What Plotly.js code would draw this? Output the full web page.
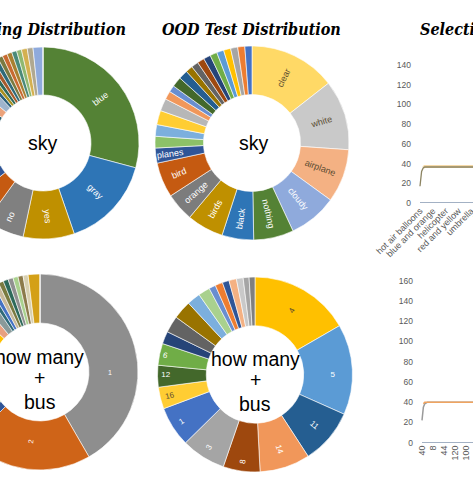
<!DOCTYPE html>
<html><head><meta charset="utf-8">
<script src="https://cdn.plot.ly/plotly-3.0.1.min.js"></script>
<style>
html,body{margin:0;padding:0;background:#fff;overflow:hidden;width:473px;height:477px;}
#chart{position:absolute;left:-70px;top:0;width:690px;height:477px;}
</style></head><body><div id="chart"></div>
<script>
// ---------- DATA ----------
// Training distribution, question "sky" (answers clockwise from 12 o'clock)
const trainSkyLabels = ["blue","gray","yes","no","orange","cloudy","white","clear","black","dark","red","green","night","purple","pink","sunny","overcast","kite","sun","birds","airplane","planes","bird","clouds","nothing","hazy","stormy","grey","light blue"];
const trainSkyValues = [105,56,31,24,16,10,9,9,9,9,9,9,6,8,7,3,3,3,3,3,3,3,3,3,3,3.5,3.5,6,0.0001];
const trainSkyColors = ["#548235","#2E75B6","#BF9000","#808080","#C55A11","#2F5597","#A9D18E","#9DC3E6","#FFD966","#C9C9C9","#F4B183","#8FAADC","#2F6070","#EBA27A","#9EB4CC","#2A607A","#A89020","#2E6A5A","#A85A2A","#2F6A78","#7A7A40","#C86A30","#A88030","#4A8A78","#90B870","#D4B050","#B0A890","#8FAADC","#8FAADC"];
const trainSkyShown = ["gray","yes","no"];
const trainSkyRadialLabel = "blue";   // drawn along its radius (slice crosses 3 o'clock)

// OOD test distribution, question "sky"
const testSkyLabels = ["clear","white","airplane","cloudy","nothing","black","birds","orange","bird","planes","kite","sun","blue","clouds","plane","red","yes","no","overcast","gray","sunny","jet","kites","night","dark","none","day","flying"];
const testSkyValues = [52,42,32,29,24,19,22,17,21,9,7,7,8.5,7.5,5,4,6,5.5,4.25,4.25,4.25,4.25,4.25,4.25,4.25,4.25,4.25,4.25];
const testSkyColors = ["#FFD966","#C9C9C9","#F4B183","#8FAADC","#548235","#2E75B6","#BF9000","#7C7C7C","#C55A11","#2F5597","#8CC168","#7CAFDD","#FFCD33","#B7B7B7","#F1975A","#698ED0","#43682B","#255E91","#997300","#636363","#9E480E","#264478","#70AD47","#5B9BD5","#FFC000","#A5A5A5","#ED7D31","#4472C4"];
const testSkyShown = ["clear","white","airplane","cloudy","nothing","black","birds","orange","bird","planes"];
const testSkyDarkText = ["clear","white","airplane"];

// Training distribution, question "how many" + "bus"
const trainBusLabels = ["1","2","3","4","5","6","7","8","9","10","11","12","0","20","13","15","14","16","17","18","19","21","25","30","24","50"];
const trainBusValues = [150,75,8,8,8,8,8,8,8,8,8,8,8,7,6,3,3,3,3,3,3,3,3,3,7,0.0001];
const trainBusColors = ["#8E8E8E","#CF6418","#2F5597","#A9D18E","#9DC3E6","#FFD966","#C9C9C9","#F4B183","#8FAADC","#548235","#2E75B6","#BF9000","#FFC000","#E8A080","#8A9A9A","#2F6A78","#4472C4","#C9B99A","#7A7A40","#2E6A5A","#909090","#A9D18E","#8C7A4A","#D8D0B0","#D4A017","#D4A017"];
const trainBusShown = ["1","2"];

// OOD test distribution, question "how many" + "bus"
const testBusLabels = ["4","5","11","14","8","3","1","16","12","6","2","7","9","10","13","15","17","18","20","24","0","30"];
const testBusValues = [60,54,33,30,22,26.5,24,13,13,13,7.5,10,11,8,7,4,4.5,4,4.5,4,3.5,3.5];
const testBusColors = ["#FFC000","#5B9BD5","#255E91","#F1975A","#9E480E","#A5A5A5","#4472C4","#FFCD33","#43682B","#70AD47","#264478","#636363","#997300","#7CAFDD","#A9D18E","#698ED0","#ED7D31","#2F5597","#F4B183","#C9C9C9","#A5A5A5","#7F7F7F"];
const testBusShown = ["4","5","11","14","8","3","1","16","12","6"];
const testBusDarkText = ["4","16"];

// Selection charts (right column)
const topTickText = ["hot air balloons","blue and orange","helicopter","red and yellow","umbrella","kite"];
const topBlue   = [0,0,0,0,0,0,0,0,0,0,0,0,0,0,0,0,0,0,0,0,0,0,0,0,0,0,0,0,0,0,0,0,0,0,0,0,0,0,0,0,0,0,0,0,0,0,0,0];
const topGray   = [17,32,35.5,36.5,36.5,36.5,36.5,36.5,36.5,36.5,36.5,36.5,36.5,36.5,36.5,36.5,36.5,36.5,36.5,36.5,36.5,36.5,36.5,36.5,36.5,36.5,36.5,36.5,36.5,36.5,36.5,36.5,36.5,36.5,36.5,36.5,36.5,36.5,36.5,36.5,36.5,36.5,36.5,36.5,36.5,36.5,36.5,36.5];
const topOrange = [null,null,36,37,37,37,37,37,37,37,37,37,37,37,37,37,37,37,37,37,37,37,37,37,37,37,37,37,37,37,37,37,37,37,37,37,37,37,37,37,37,37,37,37,37,37,37,37];

const bottomTickText = ["40","8","44","120","100","36"];
const bottomBlue   = [0,0,0,0,0,0,0,0,0,0,0,0,0,0,0,0,0,0,0,0,0,0,0,0,0,0,0,0,0,0,0,0,0,0,0,0,0,0,0,0,0,0,0,0,0,0,0,0];
const bottomGray   = [22,35,38.5,39.5,40,40,40,40,40,40,40,40,40,40,40,40,40,40,40,40,40,40,40,40,40,40,40,40,40,40,40,40,40,40,40,40,40,40,40,40,40,40,40,40,40,40,40,40];
const bottomOrange = [null,38.5,40,40,40,40,40,40,40,40,40,40,40,40,40,40,40,40,40,40,40,40,40,40,40,40,40,40,40,40,40,40,40,40,40,40,40,40,40,40,40,40,40,40,40,40,40,40];
const labelStep = 8;

// ---------- LAYOUT HELPERS ----------
const OFF = 70, W = 690, H = 477;
const px = x => (x + OFF) / W;
const py = y => 1 - y / H;

function donut(labels, values, colors, shown, dark, cx, cy, r, size) {
  return {
    type: 'pie', labels: labels, values: values, sort: false,
    direction: 'clockwise', rotation: 0, hole: 0.5,
    marker: {colors: colors, line: {color: '#ffffff', width: 0.6}},
    text: labels.map(l => shown.includes(l) ? l : ''),
    textinfo: 'text', textposition: 'inside', insidetextorientation: 'radial',
    textfont: {family: 'Liberation Sans, Arial, sans-serif', size: size,
               color: labels.map(l => dark.includes(l) ? '#5a4a30' : '#ffffff')},
    domain: {x: [px(cx - r), px(cx + r)], y: [py(cy + r), py(cy - r)]},
    hoverinfo: 'none', showlegend: false
  };
}

// label placed at the middle of a slice, oriented along its radius
function radialLabel(labels, values, name, cx, cy, r, color, size) {
  const total = values.reduce((a, b) => a + b, 0);
  const i = labels.indexOf(name);
  const before = values.slice(0, i).reduce((a, b) => a + b, 0);
  const mid = (before + values[i] / 2) / total * 2 * Math.PI;
  const rm = r * 0.75;
  return {text: name, x: px(cx + rm * Math.sin(mid)), y: py(cy - rm * Math.cos(mid)),
          xref: 'paper', yref: 'paper', xanchor: 'center', yanchor: 'middle', showarrow: false,
          textangle: -(90 - mid * 180 / Math.PI),
          font: {family: 'Liberation Sans, Arial, sans-serif', size: size, color: color}};
}

const idx = arr => arr.map((_, i) => i);
function line(xa, ya, vals, color, width) {
  return {type: 'scatter', mode: 'lines', x: idx(vals), y: vals, xaxis: xa, yaxis: ya,
          line: {color: color, width: width}, hoverinfo: 'none', showlegend: false, connectgaps: false};
}

const traces = [
  donut(trainSkyLabels, trainSkyValues, trainSkyColors, trainSkyShown, [], 43, 143, 96, 9),
  donut(testSkyLabels, testSkyValues, testSkyColors, testSkyShown, testSkyDarkText, 252, 143, 97, 9),
  donut(trainBusLabels, trainBusValues, trainBusColors, trainBusShown, [], 40, 372, 98, 7),
  donut(testBusLabels, testBusValues, testBusColors, testBusShown, testBusDarkText, 255, 374.5, 97.5, 8),
  line('x2', 'y2', topBlue, '#8497B0', 1.5),
  line('x2', 'y2', topOrange, '#F5D9A8', 3),
  line('x2', 'y2', topGray, '#8C8462', 1.3),
  line('x3', 'y3', bottomBlue, '#8497B0', 1.5),
  line('x3', 'y3', bottomGray, '#9A9A9A', 1.5),
  line('x3', 'y3', bottomOrange, '#F0A460', 1.5)
];

const tickFont = {family: 'Liberation Sans, Arial, sans-serif', size: 9, color: '#595959'};
const yTickFont = {family: 'Liberation Sans, Arial, sans-serif', size: 8.5, color: '#595959'};
const titleFont = {family: 'DejaVu Serif Condensed, DejaVu Serif, serif', size: 16, color: '#000000'};
const centerFont = {family: 'Liberation Sans, Arial, sans-serif', size: 19.5, color: '#000000'};

function centerText(text, x, y) {
  return {text: text, x: px(x), y: py(y), xref: 'paper', yref: 'paper', xanchor: 'center', yanchor: 'middle', showarrow: false, font: centerFont};
}

const layout = {
  width: W, height: H, margin: {l: 0, r: 0, t: 0, b: 0},
  paper_bgcolor: '#ffffff', plot_bgcolor: '#ffffff', showlegend: false,
  xaxis2: {domain: [px(416), px(610)], anchor: 'y2', range: [-2.5, 118.75],
           tickmode: 'array', tickvals: topTickText.map((_, i) => i * labelStep), ticktext: topTickText,
           tickangle: -45, tickfont: tickFont, showgrid: false, zeroline: false, showline: false, ticks: ''},
  yaxis2: {domain: [py(203), py(65)], anchor: 'x2', range: [0, 140], tick0: 0, dtick: 20,
           tickfont: yTickFont, showgrid: false, zeroline: false, showline: false, ticks: '', ticklabelstandoff: 4},
  xaxis3: {domain: [px(419), px(610)], anchor: 'y3', range: [-2.18, 136.7],
           tickmode: 'array', tickvals: bottomTickText.map((_, i) => i * labelStep), ticktext: bottomTickText,
           tickangle: -90, tickfont: tickFont, showgrid: false, zeroline: false, showline: false, ticks: ''},
  yaxis3: {domain: [py(442.7), py(280.7)], anchor: 'x3', range: [0, 160], tick0: 0, dtick: 20,
           tickfont: yTickFont, showgrid: false, zeroline: false, showline: false, ticks: '', ticklabelstandoff: 5},
  annotations: [
    {text: '<b><i>Training Distribution</i></b>', x: px(128), y: py(29.5), xref: 'paper', yref: 'paper', xanchor: 'right', yanchor: 'middle', showarrow: false, font: titleFont},
    {text: '<b><i>OOD Test Distribution</i></b>', x: px(251), y: py(29.5), xref: 'paper', yref: 'paper', xanchor: 'center', yanchor: 'middle', showarrow: false, font: titleFont},
    {text: '<b><i>Selection Bias</i></b>', x: px(418), y: py(29.5), xref: 'paper', yref: 'paper', xanchor: 'left', yanchor: 'middle', showarrow: false, font: titleFont},
    radialLabel(trainSkyLabels, trainSkyValues, trainSkyRadialLabel, 43, 143, 96, '#ffffff', 9),
    centerText('sky', 43, 142.5),
    centerText('sky', 254, 142.5),
    centerText('how many', 40, 356.5),
    centerText('+', 40, 378),
    centerText('bus', 40, 401.5),
    centerText('how many', 255, 358.5),
    centerText('+', 255, 380),
    centerText('bus', 255, 403.5)
  ]
};

Plotly.newPlot('chart', traces, layout, {staticPlot: true, displayModeBar: false});
</script></body></html>
